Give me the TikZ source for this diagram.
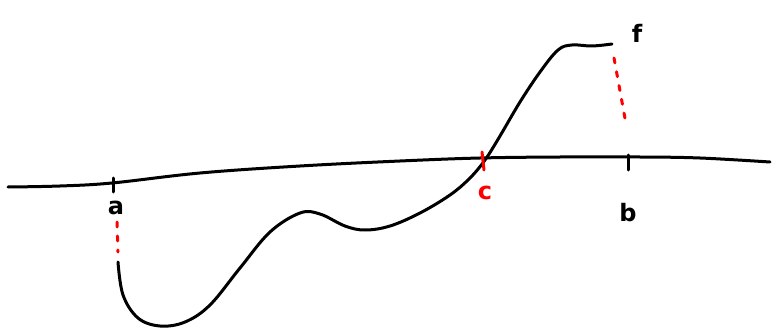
\documentclass[tikz,border=0pt]{standalone}
\usepackage{fontspec}
\setmainfont{DejaVu Sans}
\begin{document}
\begin{tikzpicture}[x=1pt,y=-1pt,
  ink/.style={line width=3pt,line cap=round,line join=round,black},
  redink/.style={line width=3pt,line cap=round,red},
  reddash/.style={line width=3pt,line cap=round,red,dash pattern=on 5pt off 9pt},
  lbl/.style={font=\fontsize{24}{24}\selectfont\bfseries,inner sep=0pt}]
\useasboundingbox (0,0) rectangle (772,329);
% axis
\draw[ink] plot[smooth,tension=0.6] coordinates {(8,187) (60,186) (112,183) (200,173) (300,166) (400,161) (480,158) (560,157) (640,157) (700,158) (770,162)};
% ticks
\coordinate (ta1) at (113,178); \coordinate (ta2) at (113,192);
\draw[ink] (ta1) -- (ta2);
\coordinate (tb1) at (628,155); \coordinate (tb2) at (628,170);
\draw[ink] (tb1) -- (tb2);
\coordinate (tc1) at (482,152); \coordinate (tc2) at (484,170);
% function curve
\draw[ink] plot[smooth,tension=0.6] coordinates {(118,262) (123,295) (138,318) (160,326) (185,322) (210,305) (240,268) (270,232) (300,213) (320,214) (345,226) (365,230) (390,226) (420,213) (450,195) (470,178) (485,160) (500,136) (520,102) (540,72) (558,50) (572,45) (592,46) (612,44)};
\draw[redink] (tc1) -- (tc2);
% labels
\node[lbl] (a) at (116,208) {a};
\node[lbl,red] (c) at (485,193) {c};
\node[lbl] (b) at (628,213) {b};
\node[lbl] (f) at (637,33) {f};
% red dashed guides
\coordinate (ra1) at (117,222); \coordinate (ra2) at (118,252);
\draw[reddash] (ra1) -- (ra2);
\coordinate (rf1) at (614,58); \coordinate (rf2) at (626,124);
\draw[reddash] (rf1) -- (rf2);
\end{tikzpicture}
\end{document}
